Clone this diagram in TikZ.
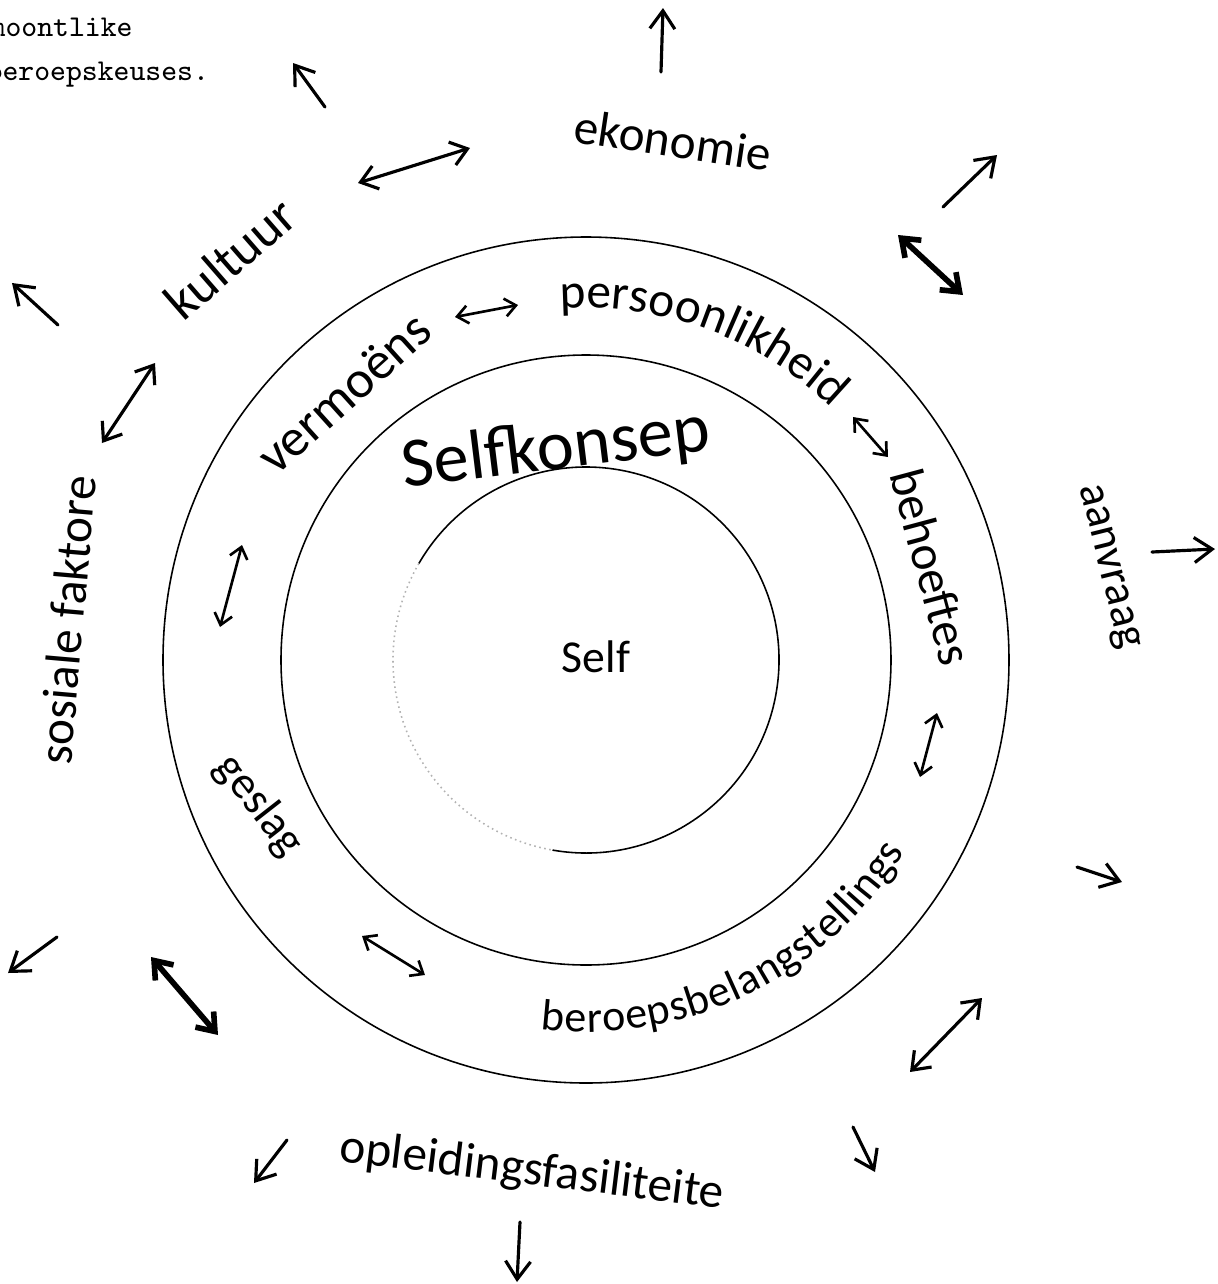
\documentclass[tikz,border=0pt]{standalone}
\usepackage{fontspec}
\setmainfont{Carlito}
\usetikzlibrary{arrows.meta, decorations.text}

\begin{document}
\begin{tikzpicture}[
        x=0.01cm, y=-0.01cm,
        ring/.style={line width=0.45pt},
        lbl/.style={font=\fontsize{14}{16}\selectfont, inner sep=0pt},
        typed/.style={font=\ttfamily\fontsize{8.6}{10}\selectfont, anchor=base west, inner sep=0pt},
        outarrow/.style={-{Straight Barb[length=1.8mm, width=2.5mm]}, line width=0.9pt, line cap=round},
        link/.style={{Straight Barb[length=1.6mm, width=2.4mm]}-{Straight Barb[length=1.6mm, width=2.4mm]}, line width=0.9pt, line cap=round},
        heavy/.style={link, line width=1.6pt},
        inlink/.style={{Straight Barb[length=1.1mm, width=1.8mm]}-{Straight Barb[length=1.1mm, width=1.8mm]}, line width=0.75pt, line cap=round},
        band/.style={decorate, decoration={text along path, text align=center, text={|\fontsize{14}{16}\selectfont|#1}}}
    ]
    \useasboundingbox (0,0) rectangle (1217,1284);

    % Rings
    \coordinate (C) at (586,660);
    \draw[ring] (C) circle[radius=423];
    \draw[ring] (C) circle[radius=305];
    \draw[ring] (C) ++(100:193) arc[start angle=100, end angle=-150, radius=193];
    \draw[ring, gray!60, densely dotted] (C) ++(-150:193) arc[start angle=-150, end angle=-260, radius=193];

    % Caption (cut by the page edge)
    \node[typed] (cap1) at (-11,36) {moontlike};
    \node[typed] (cap2) at (-14,80) {beroepskeuses.};

    % Centre
    \node[lbl, font=\fontsize{13}{15}\selectfont] (self) at (596,657) {Self};
    \node[lbl, font=\fontsize{20}{22}\selectfont, rotate=7] (konsep) at (556,450) {Selfkonsep};

    % Band between the rings
    \node[lbl, font=\fontsize{15}{17}\selectfont, rotate=42] (vermoe) at (344,393) {vermoëns};
    \path[band=persoonlikheid] (C) ++(-120:352) arc[start angle=-120, end angle=-20, radius=352];
    \node[lbl, rotate=-75] (behoefte) at (932,567) {behoeftes};
    \path[decorate, decoration={text along path, text align=fit to path,
        text={|\fontsize{12.5}{15}\selectfont|beroepsbelangstellings}}]
        (C) ++(97:372) arc[start angle=97, end angle=31, radius=372];
    \node[lbl, font=\fontsize{13}{15}\selectfont, rotate=-52] (geslag) at (259,806) {geslag};

    % Outside factors
    \node[lbl, font=\fontsize{15}{17}\selectfont, rotate=41] (kultuur) at (230,258) {kultuur};
    \node[lbl, rotate=-8.5] (ekonomie) at (673,140) {ekonomie};
    \node[lbl, font=\fontsize{13}{15}\selectfont, rotate=-76] (aanvraag) at (1107,567) {aanvraag};
    \node[lbl, rotate=-7] (opleiding) at (532,1172) {opleidingsfasiliteite};
    \node[lbl, rotate=85] (sosiaal) at (67,620) {sosiale faktore};

    % Arrow ends
    \coordinate (nwA) at (325,107);   \coordinate (nwB) at (293,63);
    \coordinate (upA) at (661,72);    \coordinate (upB) at (663,8);
    \coordinate (neA) at (943,207);   \coordinate (neB) at (997,155);
    \coordinate (eA) at (1152,552);   \coordinate (eB) at (1215,549);
    \coordinate (seA) at (1077,867);  \coordinate (seB) at (1122,882);
    \coordinate (sseA) at (853,1127); \coordinate (sseB) at (875,1172);
    \coordinate (sA) at (520,1222);   \coordinate (sB) at (517,1282);
    \coordinate (sswA) at (287,1140); \coordinate (sswB) at (254,1183);
    \coordinate (swA) at (57,937);    \coordinate (swB) at (8,973);
    \coordinate (wnwA) at (58,325);   \coordinate (wnwB) at (12,283);

    \coordinate (kuA) at (358,183);   \coordinate (kuB) at (470,148);
    \coordinate (ekA) at (898,235);   \coordinate (ekB) at (963,295);
    \coordinate (aaA) at (910,1072);  \coordinate (aaB) at (982,998);
    \coordinate (opA) at (151,957);   \coordinate (opB) at (218,1035);
    \coordinate (soA) at (102,443);   \coordinate (soB) at (155,363);

    \coordinate (vpA) at (455,317);   \coordinate (vpB) at (518,305);
    \coordinate (pbA) at (853,417);   \coordinate (pbB) at (888,457);
    \coordinate (bbA) at (937,713);   \coordinate (bbB) at (920,777);
    \coordinate (bgA) at (362,936);   \coordinate (bgB) at (425,975);
    \coordinate (gvA) at (220,627);   \coordinate (gvB) at (242,545);

    % Arrows
    \draw[outarrow] (nwA) -- (nwB); \draw[outarrow] (upA) -- (upB);
    \draw[outarrow] (neA) -- (neB); \draw[outarrow] (eA) -- (eB);
    \draw[outarrow] (seA) -- (seB); \draw[outarrow] (sseA) -- (sseB);
    \draw[outarrow] (sA) -- (sB); \draw[outarrow] (sswA) -- (sswB);
    \draw[outarrow] (swA) -- (swB); \draw[outarrow] (wnwA) -- (wnwB);
    \draw[link] (kuA) -- (kuB); \draw[heavy] (ekA) -- (ekB);
    \draw[link] (aaA) -- (aaB); \draw[heavy] (opA) -- (opB);
    \draw[link] (soA) -- (soB);
    \draw[inlink] (vpA) -- (vpB); \draw[inlink] (pbA) -- (pbB);
    \draw[inlink] (bbA) -- (bbB); \draw[inlink] (bgA) -- (bgB);
    \draw[inlink] (gvA) -- (gvB);
\end{tikzpicture}
\end{document}
